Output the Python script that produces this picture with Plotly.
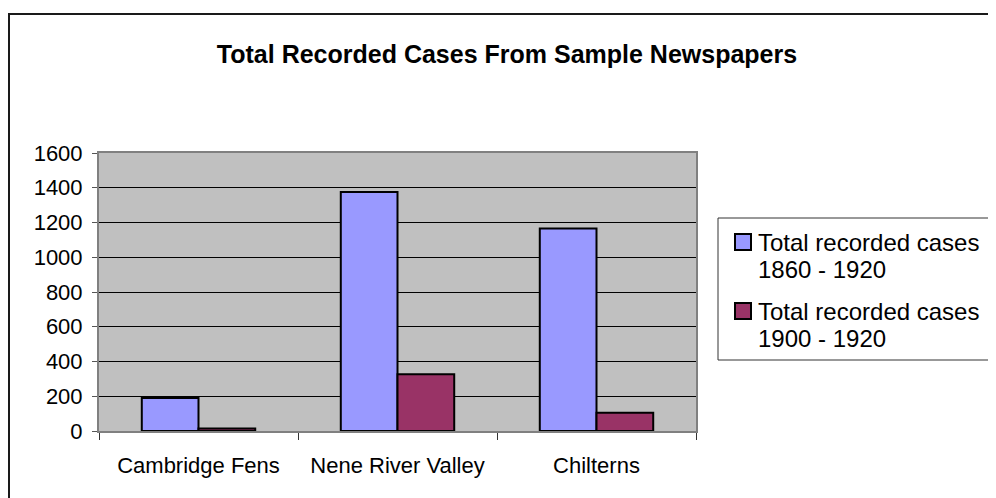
import plotly.graph_objects as go

categories = ["Cambridge Fens", "Nene River Valley", "Chilterns"]
series_1860 = [190, 1375, 1165]
series_1900 = [15, 326, 105]
name_1860 = ["Total recorded cases", "1860 - 1920"]
name_1900 = ["Total recorded cases", "1900 - 1920"]
title_text = "Total Recorded Cases From Sample Newspapers"
y_ticks = [0, 200, 400, 600, 800, 1000, 1200, 1400, 1600]

color_1860 = "#9999FF"
color_1900 = "#993366"
FONT = "Liberation Sans, Arial, sans-serif"

# page is rendered with an 8px body margin: work in figure pixels
W, H = 988, 490
L, R, T, B = 91, 300, 145, 67
pw = W - L - R
ph = H - T - B


def px2x(px):
    return (px - L) / pw


def px2y(py):
    return (H - B - py) / ph


fig = go.Figure()
fig.add_trace(go.Bar(x=categories, y=series_1860, name=" ".join(name_1860),
                     showlegend=False,
                     marker=dict(color=color_1860, line=dict(color="black", width=2))))
fig.add_trace(go.Bar(x=categories, y=series_1900, name=" ".join(name_1900),
                     showlegend=False,
                     marker=dict(color=color_1900, line=dict(color="black", width=2))))

fig.update_layout(
    width=W, height=H,
    margin=dict(l=L, r=R, t=T, b=B, pad=0),
    paper_bgcolor="white",
    plot_bgcolor="#C0C0C0",
    barmode="group",
    bargap=0.43,
    bargroupgap=0,
    font=dict(family=FONT, size=22, color="black"),
    title=dict(text="<b>" + title_text + "</b>", x=499 / W, xanchor="center",
               y=1 - 46 / H, yanchor="middle",
               font=dict(family=FONT, size=25, color="black")),
    showlegend=False,
    xaxis=dict(
        type="category", showgrid=False, tickson="boundaries",
        ticks="outside", ticklen=7, tickcolor="#333333", tickwidth=1,
        showline=True, linecolor="#808080", linewidth=2, mirror=True,
        tickfont=dict(family=FONT, size=22, color="black"),
        ticklabelstandoff=14,
        fixedrange=True,
    ),
    yaxis=dict(
        range=[0, 1600], tickvals=y_ticks, ticktext=[str(v) for v in y_ticks],
        showgrid=True, gridcolor="black", gridwidth=1,
        ticks="outside", ticklen=5, tickcolor="#555555", tickwidth=1,
        showline=True, linecolor="#808080", linewidth=2, mirror=True,
        tickfont=dict(family=FONT, size=22, color="black"),
        ticklabelstandoff=5,
        zeroline=False, fixedrange=True,
    ),
)

# outer chart frame (extends beyond the visible page on right and bottom)
fig.add_shape(type="rect", xref="paper", yref="paper",
              x0=px2x(1), x1=px2x(1010), y0=px2y(510), y1=px2y(6),
              line=dict(color="#1a1a1a", width=2), fillcolor="rgba(0,0,0,0)",
              layer="below")

# legend box
fig.add_shape(type="rect", xref="paper", yref="paper",
              x0=px2x(710), x1=px2x(986), y0=px2y(352), y1=px2y(210),
              line=dict(color="#333333", width=1), fillcolor="white")

legend_items = [(name_1860, color_1860, 234), (name_1900, color_1900, 303)]
for lines, col, cy in legend_items:
    fig.add_shape(type="rect", xref="paper", yref="paper",
                  x0=px2x(727), x1=px2x(743), y0=px2y(cy + 8), y1=px2y(cy - 8),
                  line=dict(color="black", width=2), fillcolor=col)
    for i, txt in enumerate(lines):
        fig.add_annotation(xref="paper", yref="paper", x=px2x(748), y=px2y(cy + 27 * i),
                           text=txt, showarrow=False, xanchor="left", yanchor="middle",
                           font=dict(family=FONT, size=24, color="black"))

fig.write_html("out.html")
